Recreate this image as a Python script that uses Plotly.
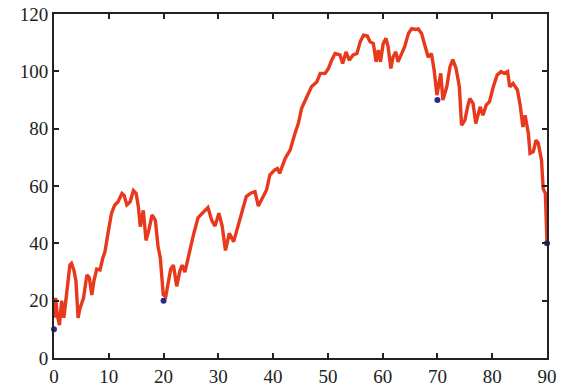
import plotly.graph_objects as go

# Traced series
x_vals = [0, 0.3, 0.6, 1.0, 1.4, 1.8, 2.1, 2.5, 2.9, 3.2, 3.65, 4.0, 4.4, 4.7, 5.05, 5.4, 6.0, 6.45, 6.9, 7.3,
          7.8, 8.4, 8.9, 9.3, 9.9, 10.5, 11.1, 11.7, 12.4, 12.8, 13.3, 13.9, 14.5, 15.0, 15.4, 15.75, 16.3, 16.8, 17.3, 17.9,
          18.5, 19.0, 19.4, 19.95, 20.4, 21.0, 21.3, 21.8, 22.4, 23.0, 23.4, 23.9, 24.5, 25.4, 26.3, 27.3, 28.1, 28.8, 29.4, 30.1,
          30.7, 31.3, 32.0, 32.8, 33.4, 34.3, 35.1, 35.9, 36.7, 37.3, 38.1, 38.8, 39.4, 40.3, 40.8, 41.2, 42.2, 43.1, 44.0, 44.6,
          45.2, 46.1, 47.0, 48.0, 48.6, 49.5, 50.1, 50.7, 51.3, 52.2, 52.7, 53.3, 53.9, 54.6, 55.3, 55.9, 56.5, 57.2, 57.7, 58.3,
          58.8, 59.2, 59.6, 60.1, 60.6, 61.0, 61.5, 61.9, 62.4, 62.8, 63.5, 64.0, 64.7, 65.3, 66.0, 66.5, 67.1, 67.7, 68.3, 68.9,
          69.4, 69.9, 70.6, 71.0, 71.7, 72.3, 72.8, 73.4, 74.0, 74.4, 75.0, 75.5, 75.9, 76.5, 77.0, 77.8, 78.3, 78.9, 79.5, 80.2,
          80.9, 81.6, 82.2, 82.8, 83.2, 83.8, 84.6, 85.1, 85.6, 86.0, 86.6, 86.9, 87.5, 88.0, 88.4, 89.0, 89.3, 89.7, 90.0]
y_vals = [14, 21, 15, 11.5, 20, 14, 19, 27, 32.4, 33, 30.5, 27, 14, 17, 19, 21, 29, 28, 22, 27,
          31, 30.7, 34.8, 37, 44, 50.5, 53.4, 54.5, 57.4, 56.7, 53.4, 54.5, 58.4, 57.4, 52.8, 45.8, 51.5, 41, 44.5, 49.9,
          48, 38.8, 35, 22, 21.4, 27.2, 31, 32.4, 25, 30.5, 32.4, 30, 35.3, 42.5, 49, 51, 52.5, 48, 46, 50.5,
          46, 37.5, 43.5, 40.6, 44.6, 51.6, 56.3, 57.5, 58, 53, 55.7, 58.6, 63.8, 65.6, 66.1, 64.4, 69.6, 72.5, 78.4, 81.8,
          87.1, 91.1, 94.6, 96.4, 99.3, 99.3, 101, 103.9, 106.2, 105.7, 102.7, 106.8, 103.9, 105.7, 106.2, 110.3, 112.6, 112.3, 110.3, 109.7,
          103.3, 107.4, 103.3, 109.7, 111.5, 108.5, 101, 105, 106.8, 103.3, 106.8, 108.5, 113.2, 114.9, 114.6, 114.8, 113.2, 109.2, 105, 106.2,
          100.4, 91.7, 99.3, 90, 94.6, 101.6, 104.1, 101, 94.6, 81.2, 82.9, 87.6, 90.5, 88.8, 81.8, 87.6, 84.7, 88.2, 89.4, 94.6,
          98.7, 99.9, 99.3, 99.9, 94.6, 95.8, 93.5, 88.2, 80.6, 84.7, 78.3, 71.4, 72, 76, 74.9, 69, 59.1, 57.4, 40]

# Highlighted points
pt_x = [0, 20, 70, 90]
pt_y = [10, 20, 90, 40]

x_ticks = [0, 10, 20, 30, 40, 50, 60, 70, 80, 90]
y_ticks = [0, 20, 40, 60, 80, 100, 120]

fig = go.Figure()
fig.add_trace(go.Scatter(x=x_vals, y=y_vals, mode="lines",
                         line=dict(color="#E8391D", width=3.4), showlegend=False, hoverinfo="skip"))
fig.add_trace(go.Scatter(x=pt_x, y=pt_y, mode="markers",
                         marker=dict(color="#2B2A8C", size=6), cliponaxis=False, showlegend=False))

axis_common = dict(showgrid=False, zeroline=False, showline=True, linecolor="#222222", linewidth=2,
                   ticks="inside", ticklen=5, tickwidth=2, tickcolor="#222222", mirror="ticks",
                   automargin=False, ticklabeloverflow="allow",
                   tickfont=dict(family="Liberation Serif", size=19, color="#222222"))

fig.update_xaxes(range=[0, 90], tickvals=x_ticks, ticktext=[str(v) for v in x_ticks], **axis_common)
fig.update_yaxes(range=[0, 120], tickvals=y_ticks, ticktext=[str(v) for v in y_ticks], **axis_common)

fig.update_layout(width=565, height=389, margin=dict(l=54, r=18, t=14, b=31),
                  paper_bgcolor="white", plot_bgcolor="white")

# remove the default 8px page margin so the figure fills the window exactly
fig.write_html("out.html", config={"displayModeBar": False},
               post_script="document.body.style.margin='0';document.body.style.overflow='hidden';")
